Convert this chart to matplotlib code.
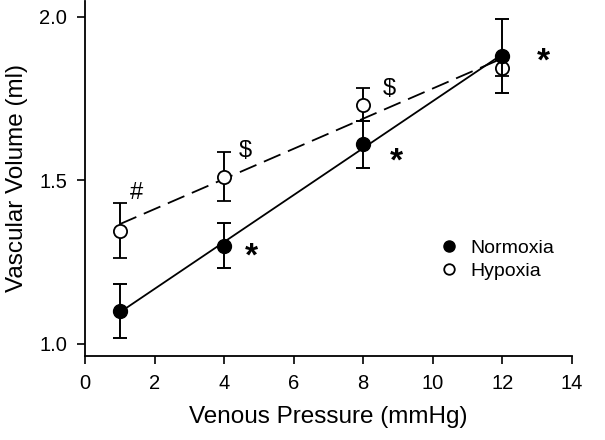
import numpy as np
import matplotlib
matplotlib.use("Agg")
import matplotlib.pyplot as plt

plt.rcParams["font.family"] = ["Liberation Sans", "DejaVu Sans"]

# venous pressure steps (mmHg)
pressure = [1, 4, 8, 12]
# vascular volume (ml), mean and error
norm_mean = [1.10, 1.30, 1.61, 1.88]
norm_err = [0.083, 0.068, 0.072, 0.112]
hyp_mean = [1.345, 1.511, 1.731, 1.843]
hyp_err = [0.084, 0.074, 0.050, 0.025]

# significance marks: (x, y, text)
marks_text = ["#", "$", "$", "*", "*", "*"]
marks_x = [1.48, 4.6, 8.75, 4.8, 8.95, 13.2]
marks_y = [1.46, 1.59, 1.78, 1.265, 1.555, 1.86]

fig = plt.figure(figsize=(6.05, 4.4), dpi=100)
ax = fig.add_axes([0.1405, 0.191, 0.8045, 0.807])

xs = np.array([1, 12])
for y, ls in ((norm_mean, "-"), (hyp_mean, (0, (10, 4.5)))):
    k, b = np.polyfit(pressure, y, 1)
    ax.plot(xs, k * xs + b, ls=ls, color="black", lw=1.3, zorder=2)

ax.errorbar(pressure, norm_mean, yerr=norm_err, fmt="o", color="black",
            mfc="black", ms=10, capsize=5, elinewidth=1.4, capthick=1.4,
            zorder=4, label="Normoxia")
ax.errorbar(pressure, hyp_mean, yerr=hyp_err, fmt="o", color="black",
            mfc="white", ms=9.5, mew=1.3, capsize=5, elinewidth=1.4, capthick=1.4,
            zorder=3, label="Hypoxia")

for t, x, y in zip(marks_text, marks_x, marks_y):
    if t == "*":
        ax.text(x, y, t, fontsize=24, ha="center", va="center", fontweight="bold")
    else:
        ax.text(x, y, t, fontsize=17, ha="center", va="center")

ax.set_xlim(0, 14)
ax.set_ylim(0.963, 2.048)
ax.set_xticks(range(0, 15, 2))
ax.set_yticks([1.0, 1.5, 2.0])
ax.set_yticklabels(["1.0", "1.5", "2.0"])
ax.tick_params(direction="out", length=6, width=1.2, labelsize=14.5, pad=7)
ax.spines[["top", "right"]].set_visible(False)
for s in ("left", "bottom"):
    ax.spines[s].set_linewidth(1.3)
ax.set_xlabel("Venous Pressure (mmHg)", fontsize=17.5, labelpad=9)
ax.set_ylabel("Vascular Volume (ml)", fontsize=17.5, labelpad=8)

h, l = ax.get_legend_handles_labels()
h = [hh[0] for hh in h]
ax.legend(h, l, loc="upper left", bbox_to_anchor=(0.72, 0.35), frameon=False,
          fontsize=14, handlelength=0.6, handletextpad=0.8, labelspacing=0.25,
          markerscale=0.8, borderaxespad=0)

fig.savefig("out.png", dpi=100)
